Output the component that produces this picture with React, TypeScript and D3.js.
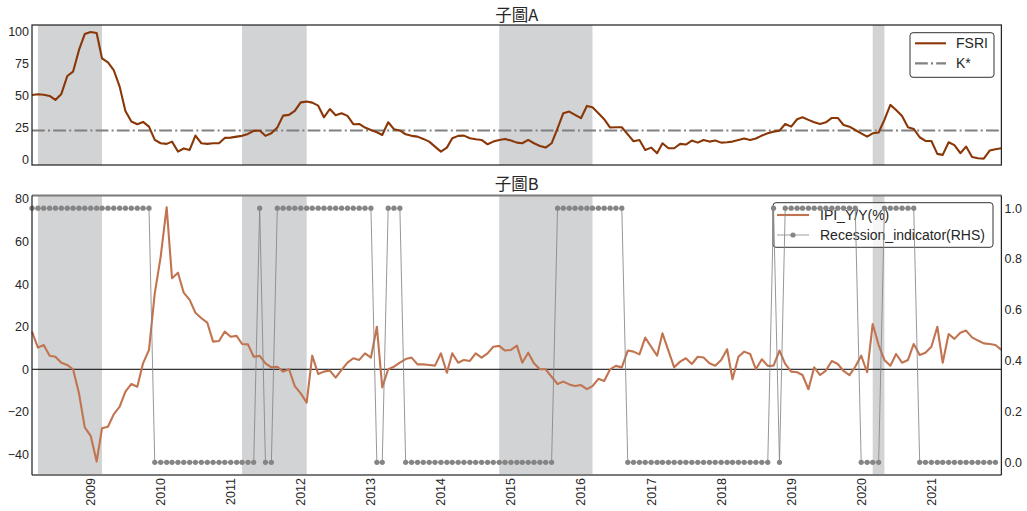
import React from "react";
import * as d3 from "d3";

// Monthly series, first observation March 2008
const START = new Date(2008, 2, 1);

const fsri = [
  50.8, 51.3, 51, 50, 46.9, 51.6, 65.6, 69, 86, 98.4,
  100, 99.2, 79.4, 76.3, 70.3, 57.3, 38.3, 30, 27.9, 29.7,
  26, 15.6, 13, 12.5, 14.3, 6.5, 8.9, 7.8, 19, 13,
  12.5, 13, 13, 17.2, 17.4, 18.2, 18.8, 20.3, 22.7, 23,
  18.8, 20.8, 25.3, 34.6, 35.2, 38.3, 45, 45.6, 44.8, 42.4,
  33.3, 39.8, 34.9, 36.5, 34.4, 27.9, 28.1, 25.3, 23.4, 21.6,
  19.5, 29.4, 24, 23, 20, 18.8, 18.2, 16.4, 14.3, 10.4,
  6.5, 9.6, 16.9, 18.8, 19, 16.9, 16.1, 15.6, 12.2, 14.3,
  15.6, 16.4, 15.1, 13.5, 13, 15.6, 13, 10.9, 9.6, 13,
  24.7, 36.5, 37.8, 35.2, 32.6, 42.2, 41.1, 36.5, 31.8, 25.3,
  25.5, 25.5, 20, 14.6, 15.6, 7.8, 9.6, 5.2, 13, 9.1,
  9.1, 12.5, 12, 15.1, 13.5, 15.6, 14.3, 15.1, 13.5, 13.8,
  14.3, 15.6, 16.7, 15.6, 16.7, 19, 20.8, 22.1, 22.9, 28.1,
  26, 31.8, 33.3, 31.3, 29.4, 28.1, 29.4, 32.8, 32.8, 27.3,
  26, 23.4, 20.8, 18.2, 20.8, 21.4, 31.3, 43, 39, 34.4,
  25.5, 24.2, 17.7, 14.8, 14.8, 4.7, 3.9, 13.8, 11.5, 5.2,
  10.4, 2.3, 1.3, 1, 7.3, 8.3, 9.1,
];

const kStar = 23;

const ipi = [
  17.7, 10.2, 11.4, 6.4, 5.9, 3.1, 2, 0, -11.3, -27.3,
  -31.3, -43.4, -27.7, -27, -21.2, -17.6, -10.5, -6.9, -8.2, 2.8,
  9.1, 35.7, 53, 76.2, 42.8, 45.4, 36, 32.6, 26.6, 24,
  21.9, 13, 13.3, 17.7, 15.3, 15.7, 11.9, 11.7, 5.9, 6.3,
  2.8, 0.9, 1.2, -1.1, 0, -7.9, -11.3, -15.7, 6.4, -2.2,
  -1.1, -0.6, -3.9, -0.3, 3.1, 5.2, 4.4, 7.5, 5.5, 20,
  -8.5, 0, 1.2, 3.1, 4.8, 5.5, 2.3, 2.3, 2, 1.7,
  7.5, -1.6, 7.5, 3.1, 4.4, 3.9, 7.5, 5.5, 7.5, 10.6,
  11, 8.8, 9.1, 11.1, 3.1, 7.8, 2.8, 0, 0, -3.5,
  -6.9, -5.8, -7.1, -7.9, -7.4, -9.3, -7.9, -4.5, -5.5, 0,
  1.6, 0.9, 8.8, 8.3, 7, 14.9, 10.6, 6.4, 16.9, 8.8,
  0.9, 3.6, 5.2, 2.5, 5.9, 5.5, 2.8, 1.7, 4.4, 9.4,
  -4.7, 5.9, 8.3, 7.2, 0, 4.7, 1.6, 1.7, 8.8, 2.5,
  -1.1, -1.4, -2.7, -9.4, 0.9, -2.7, -0.6, 3.9, 2.5, -0.8,
  -2.7, 1.2, 6.4, -1.4, 21.3, 11.4, 4.4, 1.7, 7.2, 3.1,
  4.4, 11.9, 6.7, 7.8, 10.6, 20, 3.1, 16.6, 14.3, 17.2,
  18.2, 15, 13.5, 12.2, 11.9, 11.4, 9.1,
];

const recession = [
  1, 1, 1, 1, 1, 1, 1, 1, 1, 1,
  1, 1, 1, 1, 1, 1, 1, 1, 1, 1,
  1, 0, 0, 0, 0, 0, 0, 0, 0, 0,
  0, 0, 0, 0, 0, 0, 0, 0, 0, 1,
  0, 0, 1, 1, 1, 1, 1, 1, 1, 1,
  1, 1, 1, 1, 1, 1, 1, 1, 1, 0,
  0, 1, 1, 1, 0, 0, 0, 0, 0, 0,
  0, 0, 0, 0, 0, 0, 0, 0, 0, 0,
  0, 0, 0, 0, 0, 0, 0, 0, 0, 0,
  1, 1, 1, 1, 1, 1, 1, 1, 1, 1,
  1, 1, 0, 0, 0, 0, 0, 0, 0, 0,
  0, 0, 0, 0, 0, 0, 0, 0, 0, 0,
  0, 0, 0, 0, 0, 0, 0, 1, 0, 1,
  1, 1, 1, 1, 1, 1, 1, 1, 1, 1,
  1, 1, 0, 0, 0, 0, 1, 1, 1, 1,
  1, 1, 0, 0, 0, 0, 0, 0, 0, 0,
  0, 0, 0, 0, 0, 0,
];

// Shaded stress periods [start, end]
const shadePeriods: [Date, Date][] = [
  [new Date(2008, 3, 1), new Date(2009, 2, 1)],
  [new Date(2011, 2, 1), new Date(2012, 1, 1)],
  [new Date(2014, 10, 1), new Date(2016, 2, 1)],
  [new Date(2020, 2, 1), new Date(2020, 4, 1)],
];

const yearTicks = [2009, 2010, 2011, 2012, 2013, 2014, 2015, 2016, 2017, 2018, 2019, 2020, 2021];
const fsriTicks = [0, 25, 50, 75, 100];
const ipiTicks = [-40, -20, 0, 20, 40, 60, 80];
const recTicks = [0, 0.2, 0.4, 0.6, 0.8, 1.0];

const W = 1027;
const H = 511;
const LEFT = 32;
const RIGHT = 1001.4;
const A_TOP = 25;
const A_BOT = 165;
const B_TOP = 195.5;
const B_BOT = 475;

const FONT = "'Liberation Sans', Arial, Helvetica, sans-serif";
const CJK = "'Noto Sans CJK TC', 'Noto Sans CJK SC', sans-serif";
const TXT = "#262626";
const FSRI_COLOR = "#8a3708";
const IPI_COLOR = "#c1744f";
const REC_COLOR = "#858585";
const SHADE = "#d2d3d5";

const monthDate = (i: number) => d3.timeMonth.offset(START, i);

export default function App() {
  const x = d3.scaleTime().domain([START, monthDate(fsri.length - 1)]).range([LEFT, RIGHT]);
  const yA = d3.scaleLinear().domain([-4, 105.5]).range([A_BOT, A_TOP]);
  const yB = d3.scaleLinear().domain([-49.7, 81.7]).range([B_BOT, B_TOP]);
  const yR = d3.scaleLinear().domain([-0.05, 1.05]).range([B_BOT, B_TOP]);

  const fsriLine = d3.line<number>().x((_, i) => x(monthDate(i))).y((d) => yA(d));
  const ipiLine = d3.line<number>().x((_, i) => x(monthDate(i))).y((d) => yB(d));
  const recLine = d3.line<number>().x((_, i) => x(monthDate(i))).y((d) => yR(d));

  const shades = (top: number, bot: number, key: string) =>
    shadePeriods.map(([s, e], i) => (
      <rect key={key + i} x={x(s)} y={top} width={x(e) - x(s)} height={bot - top} fill={SHADE} />
    ));

  return (
    <svg width={W} height={H} style={{ position: "absolute", left: 0, top: 0, background: "#fff" }}>
      <rect x={0} y={0} width={W} height={H} fill="#fff" />

      {/* Panel A */}
      <text x={(LEFT + RIGHT) / 2} y={21} textAnchor="middle" fontSize={16.5} fontFamily={CJK} fill={TXT}>
        子圖A
      </text>
      {shades(A_TOP, A_BOT, "a")}
      <line x1={LEFT} x2={RIGHT} y1={yA(kStar)} y2={yA(kStar)} stroke="#808080" strokeWidth={2.2}
        strokeDasharray="12.8 3.2 2 3.2" />
      <path d={fsriLine(fsri) ?? ""} fill="none" stroke={FSRI_COLOR} strokeWidth={2.1} strokeLinejoin="round" />
      <rect x={LEFT} y={A_TOP} width={RIGHT - LEFT} height={A_BOT - A_TOP} fill="none" stroke={TXT} strokeWidth={1.25} />
      {fsriTicks.map((t) => (
        <text key={"ta" + t} x={29} y={yA(t)} dy="0.35em" textAnchor="end" fontSize={12.5} fontFamily={FONT} fill={TXT}>
          {t}
        </text>
      ))}
      {/* Legend A */}
      <g>
        <rect x={910} y={32.7} width={84} height={44.6} rx={3} fill="#fff" fillOpacity={0.8} stroke="#333" strokeWidth={1} />
        <line x1={915} x2={946} y1={43.3} y2={43.3} stroke={FSRI_COLOR} strokeWidth={2.1} />
        <text x={956} y={43.3} dy="0.35em" fontSize={14} fontFamily={FONT} fill={TXT}>FSRI</text>
        <line x1={915} x2={946} y1={63.3} y2={63.3} stroke="#808080" strokeWidth={2.2} strokeDasharray="12.8 3.2 2 3.2" />
        <text x={956} y={63.3} dy="0.35em" fontSize={14} fontFamily={FONT} fill={TXT}>K*</text>
      </g>

      {/* Panel B */}
      <text x={(LEFT + RIGHT) / 2} y={190} textAnchor="middle" fontSize={16.5} fontFamily={CJK} fill={TXT}>
        子圖B
      </text>
      {shades(B_TOP, B_BOT, "b")}
      <line x1={LEFT} x2={RIGHT} y1={yB(0)} y2={yB(0)} stroke="#000" strokeWidth={1} />
      <path d={ipiLine(ipi) ?? ""} fill="none" stroke={IPI_COLOR} strokeWidth={2.1} strokeLinejoin="round" />
      {/* Legend B sits under the right-axis series */}
      <g>
        <rect x={773} y={202.7} width={220} height={44.6} rx={3} fill="#fff" fillOpacity={0.8} stroke="#333" strokeWidth={1} />
        <line x1={777} x2={809} y1={215} y2={215} stroke={IPI_COLOR} strokeWidth={2.1} />
        <text x={820} y={215} dy="0.35em" fontSize={14} fontFamily={FONT} fill={TXT}>IPI_Y/Y(%)</text>
        <line x1={777} x2={809} y1={235} y2={235} stroke={REC_COLOR} strokeWidth={1} strokeOpacity={0.8} />
        <circle cx={793} cy={235} r={2.6} fill={REC_COLOR} />
        <text x={820} y={235} dy="0.35em" fontSize={14} fontFamily={FONT} fill={TXT}>Recession_indicator(RHS)</text>
      </g>
      <path d={recLine(recession) ?? ""} fill="none" stroke={REC_COLOR} strokeWidth={1} strokeOpacity={0.85} />
      {recession.map((d, i) => (
        <circle key={"r" + i} cx={x(monthDate(i))} cy={yR(d)} r={2.6} fill={REC_COLOR} />
      ))}
      <line x1={LEFT} x2={RIGHT} y1={B_TOP} y2={B_TOP} stroke="#7a7a7a" strokeWidth={2} />
      <line x1={LEFT} x2={RIGHT} y1={B_BOT} y2={B_BOT} stroke="#7a7a7a" strokeWidth={2} />
      <line x1={LEFT} x2={LEFT} y1={B_TOP} y2={B_BOT} stroke={TXT} strokeWidth={1.25} />
      <line x1={RIGHT} x2={RIGHT} y1={B_TOP} y2={B_BOT} stroke={TXT} strokeWidth={1.25} />
      {ipiTicks.map((t) => (
        <text key={"tb" + t} x={29} y={yB(t)} dy="0.35em" textAnchor="end" fontSize={12.5} fontFamily={FONT} fill={TXT}>
          {t < 0 ? "\u2212" + Math.abs(t) : t}
        </text>
      ))}
      {recTicks.map((t) => (
        <text key={"tr" + t} x={1004.5} y={yR(t)} dy="0.35em" textAnchor="start" fontSize={12.5} fontFamily={FONT} fill={TXT}>
          {t.toFixed(1)}
        </text>
      ))}
      {yearTicks.map((yr) => {
        const px = x(new Date(yr, 0, 1));
        return (
          <text key={"yr" + yr} transform={`translate(${px},478) rotate(-90)`} dy="0.35em" textAnchor="end"
            fontSize={12.5} fontFamily={FONT} fill={TXT}>
            {yr}
          </text>
        );
      })}
    </svg>
  );
}
